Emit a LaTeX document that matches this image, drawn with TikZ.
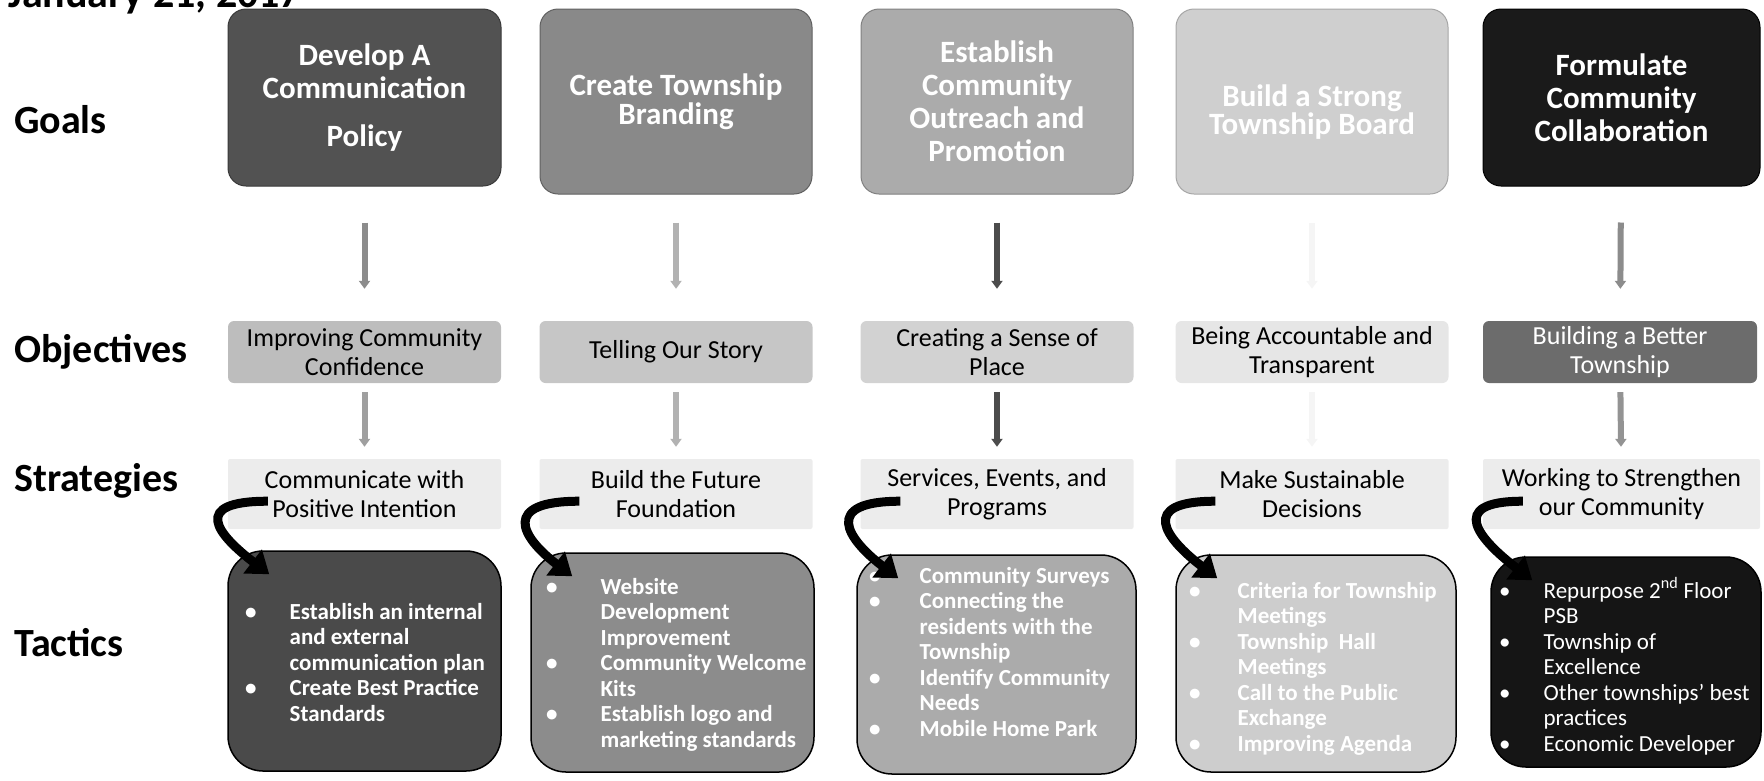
\documentclass[tikz,border=0pt]{standalone}
\usepackage{fontspec}
\setmainfont{Carlito}
\usetikzlibrary{arrows.meta,calc}

% fills, darkest to lightest per row
\definecolor{gA}{HTML}{525252}
\definecolor{gB}{HTML}{898989}
\definecolor{gC}{HTML}{ABABAB}
\definecolor{gD}{HTML}{CFCFCF}
\definecolor{gE}{HTML}{1A1A1A}
\definecolor{oA}{HTML}{BDBDBD}
\definecolor{oB}{HTML}{C6C6C6}
\definecolor{oC}{HTML}{D2D2D2}
\definecolor{oD}{HTML}{E6E6E6}
\definecolor{oE}{HTML}{6C6C6C}
\definecolor{sF}{HTML}{ECECEC}
\definecolor{tA}{HTML}{4A4A4A}
\definecolor{tB}{HTML}{8C8C8C}
\definecolor{tC}{HTML}{ABABAB}
\definecolor{tD}{HTML}{CDCDCD}
\definecolor{tE}{HTML}{151515}

% bulleted list: gap between bullet and text, then rows
\newcommand\tlist[2]{\begin{tabular}[t]{@{}l@{\hspace{#1}}l@{}}#2\end{tabular}}

\tikzset{
  lab/.style={inner sep=0pt, font=\fontsize{40}{44}\selectfont\bfseries},
  goalbox/.style={rectangle, inner sep=0pt, align=center, rounded corners=18pt,
    line width=1pt, text=white, font=\fontsize{31}{33}\selectfont\bfseries},
  objbox/.style={rectangle, inner sep=0pt, align=center, rounded corners=6pt,
    minimum width=273pt, minimum height=62pt, font=\fontsize{26}{29}\selectfont},
  stratbox/.style={rectangle, inner sep=0pt, align=center, rounded corners=2pt,
    fill=sF, minimum width=273pt, minimum height=70pt, font=\fontsize{26}{29}\selectfont},
  tacbox/.style={rectangle, inner sep=0pt, rounded corners=35pt, draw=black, line width=1.5pt},
  tactxt/.style={inner sep=0pt, anchor=base west, text=white, font=\fontsize{23}{25.5}\selectfont\bfseries},
  varrow/.style={draw=#1, line width=6pt, -{Triangle[length=8pt,width=11pt]}},
  curvarrow/.style={draw=black, line width=9pt, -{Triangle[length=21pt,width=29pt]}},
}

\begin{document}
\begin{tikzpicture}[x=1pt,y=-1pt]
\clip (0,0) rectangle (1764,780);

% row labels and date line
\node[lab, anchor=base west, font=\fontsize{42}{44}\selectfont\bfseries] (date) at (8,7) {January 21, 2017};
\node[lab, anchor=west] (lgoal) at (14,120) {Goals};
\node[lab, anchor=west] (lobj) at (14,352) {Objectives};
\node[lab, anchor=west] (lstrat) at (14,481) {Strategies};
\node[lab, anchor=west] (ltac) at (14,643) {Tactics};

% goals
\node[goalbox, fill=gA, draw=gA!70!black, minimum width=273pt, minimum height=177pt] (g1) at (364.5,97.5)
  {Develop A\\Communication\\[15pt]Policy};
\node[goalbox, fill=gB, draw=gB!70!black, minimum width=272pt, minimum height=185pt,
  font=\fontsize{31}{29}\selectfont\bfseries] (g2) at (676,101.5)
  {Create Township\\Branding};
\node[goalbox, fill=gC, draw=gC!75!black, minimum width=272pt, minimum height=185pt] (g3) at (997,101.5)
  {Establish\\Community\\Outreach and\\Promotion};
\node[goalbox, fill=gD, draw=gD!80!black, minimum width=272pt, minimum height=185pt,
  font=\fontsize{31}{27}\selectfont\bfseries] (g4) at (1312,101.5)
  {\rule{0pt}{42pt}Build a Strong\\Township Board};
\node[goalbox, fill=gE, draw=black, minimum width=277pt, minimum height=177pt] (g5) at (1621.5,97.5)
  {Formulate\\Community\\Collaboration};

% objectives
\node[objbox, fill=oA] (o1) at (364.5,352) {Improving Community\\Confidence};
\node[objbox, fill=oB] (o2) at (676,352) {Telling Our Story};
\node[objbox, fill=oC] (o3) at (997,352) {Creating a Sense of\\Place};
\node[objbox, fill=oD] (o4) at (1312,352) {Being Accountable and\\Transparent};
\node[objbox, fill=oE, text=white, minimum width=274pt] (o5) at (1620,352) {Building a Better\\Township};

% strategies
\node[stratbox] (s1) at (364.5,494) {Communicate with\\Positive Intention};
\node[stratbox] (s2) at (676,494) {Build the Future\\Foundation};
\node[stratbox] (s3) at (997,494) {Services, Events, and\\Programs};
\node[stratbox] (s4) at (1312,494) {Make Sustainable\\Decisions};
\node[stratbox, minimum width=277pt] (s5) at (1621.5,494) {Working to Strengthen\\our Community};

% tactics
\node[tacbox, fill=tA, minimum width=273pt, minimum height=220pt] (t1) at (364.5,661) {};
\node[tacbox, fill=tB, minimum width=283pt, minimum height=219pt] (t2) at (672.5,662.5) {};
\node[tacbox, fill=tC, minimum width=279pt, minimum height=219pt] (t3) at (996.5,664.5) {};
\node[tacbox, fill=tD, minimum width=280pt, minimum height=217pt] (t4) at (1316,663.5) {};
\node[tacbox, fill=tE, minimum width=270pt, minimum height=210pt] (t5) at (1626,662) {};

\node[tactxt] (tt1) at (245,619) {\tlist{33pt}{%
  \textbullet & Establish an internal\\ & and external\\ & communication plan\\
  \textbullet & Create Best Practice\\ & Standards}};
\node[tactxt] (tt2) at (546,594) {\tlist{43pt}{%
  \textbullet & Website\\ & Development\\ & Improvement\\
  \textbullet & Community Welcome\\ & Kits\\
  \textbullet & Establish logo and\\ & marketing standards}};
\node[tactxt] (tt3) at (869,583) {\tlist{39pt}{%
  \textbullet & Community Surveys\\
  \textbullet & Connecting the\\ & residents with the\\ & Township\\
  \textbullet & Identify Community\\ & Needs\\
  \textbullet & Mobile Home Park}};
\node[tactxt] (tt4) at (1189,598) {\tlist{37pt}{%
  \textbullet & Criteria for Township\\ & Meetings\\
  \textbullet & Township\ \ Hall\\ & Meetings\\
  \textbullet & Call to the Public\\ & Exchange\\
  \textbullet & Improving Agenda}};
\node[tactxt, font=\fontsize{23}{25.5}\selectfont] (tt5) at (1499,598) {\tlist{33pt}{%
  \textbullet & Repurpose 2\textsuperscript{nd} Floor\\ & PSB\\
  \textbullet & Township of\\ & Excellence\\
  \textbullet & Other townships’ best\\ & practices\\
  \textbullet & Economic Developer}};

% goal -> objective arrows
\draw[varrow=gray!90, shorten <=36pt, shorten >=32pt] (g1) -- (o1);
\draw[varrow=gray!60, shorten <=28pt, shorten >=32pt] (g2) -- (o2);
\draw[varrow=black!70, shorten <=28pt, shorten >=32pt] (g3) -- (o3);
\draw[varrow=gray!8, shorten <=28pt, shorten >=32pt] (g4) -- (o4);
\draw[varrow=gray!90, shorten <=36pt, shorten >=32pt] (g5) -- (o5);

% objective -> strategy arrows
\draw[varrow=gray!75, shorten <=9pt, shorten >=12pt] (o1) -- (s1);
\draw[varrow=gray!60, shorten <=9pt, shorten >=12pt] (o2) -- (s2);
\draw[varrow=black!70, shorten <=9pt, shorten >=12pt] (o3) -- (s3);
\draw[varrow=gray!8, shorten <=9pt, shorten >=12pt] (o4) -- (s4);
\draw[varrow=gray!85, shorten <=9pt, shorten >=12pt] (o5) -- (s5);

% strategy -> tactic curved arrows
\foreach \i in {1,...,5}{
  \draw[curvarrow] ($(s\i.south west)+(40,-28)$)
    .. controls +(-78,0) and +(-52,-40) .. ($(t\i.north west)+(42,24)$);
}
\end{tikzpicture}
\end{document}
